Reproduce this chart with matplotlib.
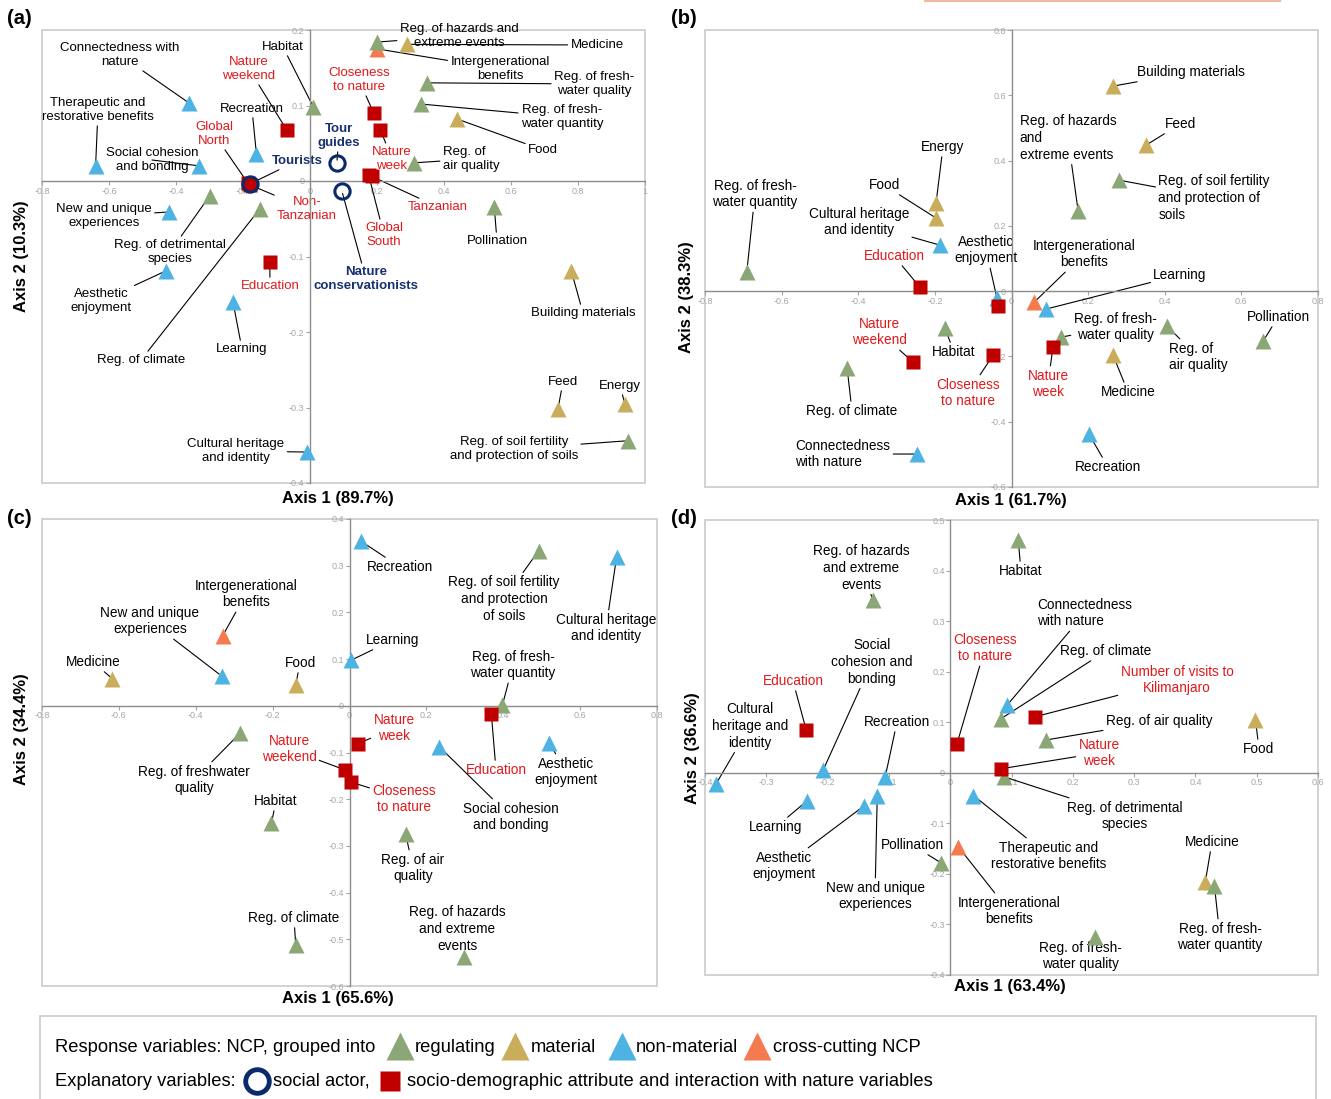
import matplotlib
matplotlib.use('Agg')
import matplotlib.pyplot as plt
from matplotlib.patches import Rectangle
from matplotlib.lines import Line2D
import numpy as np

plt.rcParams['font.family'] = ['Liberation Sans', 'DejaVu Sans']

W, H = 1331, 1099

# kinds: R regulating, M material, N non-material, C cross-cutting,
#        S socio-demographic / interaction variable, A social actor
# ---------------- panel (a) ----------------
names_a = ["Connectedness with\nnature", "Therapeutic and\nrestorative benefits", "Social cohesion\nand bonding",
           "Recreation", "Habitat", "Nature\nweekend", "Global\nNorth", "Tourists", "Tour\nguides",
           "Closeness\nto nature", "Nature\nweek", "Reg. of hazards and\nextreme events", "Medicine",
           "Intergenerational\nbenefits", "Reg. of fresh-\nwater quality", "Reg. of fresh-\nwater quantity",
           "Food", "Reg. of\nair quality", "Non-\nTanzanian", "Tanzanian", "Global\nSouth", "Pollination",
           "New and unique\nexperiences", "Reg. of detrimental\nspecies", "Nature\nconservationists",
           "Education", "Aesthetic\nenjoyment", "Learning", "Reg. of climate", "Building materials",
           "Feed", "Energy", "Reg. of soil fertility\nand protection of soils", "Cultural heritage\nand identity"]
kinds_a = ["N", "N", "N", "N", "R", "S", "S", "A", "A", "S", "S", "R", "M", "C", "R", "R", "M", "R",
           "S", "S", "S", "R", "N", "R", "A", "S", "N", "N", "R", "M", "M", "M", "R", "N"]
x_a = [-0.36, -0.64, -0.33, -0.16, 0.01, -0.07, -0.185, -0.18, 0.08, 0.19, 0.21, 0.20, 0.29, 0.20, 0.35,
       0.33, 0.44, 0.31, -0.18, 0.185, 0.175, 0.55, -0.42, -0.30, 0.095, -0.12, -0.43, -0.23, -0.15, 0.78,
       0.74, 0.94, 0.95, -0.01]
y_a = [0.103, 0.020, 0.020, 0.036, 0.098, 0.068, -0.003, -0.004, 0.024, 0.090, 0.068, 0.184, 0.181, 0.175,
       0.130, 0.102, 0.082, 0.024, -0.005, 0.006, 0.008, -0.034, -0.041, -0.020, -0.013, -0.107, -0.119,
       -0.160, -0.037, -0.119, -0.302, -0.295, -0.344, -0.359]

# ---------------- panel (b) ----------------
names_b = ["Building materials", "Feed", "Reg. of soil fertility\nand protection of\nsoils",
           "Reg. of hazards\nand\nextreme events", "Energy", "Food", "Cultural heritage\nand identity",
           "Reg. of fresh-\nwater quantity", "Aesthetic\nenjoyment", "", "Education",
           "Intergenerational\nbenefits", "Learning", "Reg. of fresh-\nwater quality", "Nature\nweek",
           "Reg. of\nair quality", "Medicine", "Pollination", "Habitat", "Nature\nweekend",
           "Closeness\nto nature", "Reg. of climate", "Connectedness\nwith nature", "Recreation"]
kinds_b = ["M", "M", "R", "R", "M", "M", "N", "R", "N", "S", "S", "C", "N", "R", "S", "R", "M", "R", "R",
           "S", "S", "R", "N", "N"]
x_b = [0.265, 0.351, 0.281, 0.174, -0.197, -0.197, -0.187, -0.691, -0.038, -0.035, -0.239, 0.059, 0.090,
       0.129, 0.108, 0.406, 0.265, 0.657, -0.174, -0.257, -0.048, -0.429, -0.247, 0.202]
y_b = [0.628, 0.447, 0.340, 0.245, 0.270, 0.224, 0.141, 0.058, -0.021, -0.046, 0.012, -0.034, -0.055,
       -0.141, -0.172, -0.107, -0.196, -0.153, -0.113, -0.217, -0.196, -0.236, -0.499, -0.438]

# ---------------- panel (c) ----------------
names_c = ["Recreation", "Reg. of soil fertility\nand protection\nof soils", "Cultural heritage\nand identity",
           "Intergenerational\nbenefits", "Learning", "Medicine", "New and unique\nexperiences", "Food",
           "Reg. of fresh-\nwater quantity", "Education", "Reg. of freshwater\nquality", "Aesthetic\nenjoyment",
           "Nature\nweek", "Social cohesion\nand bonding", "Nature\nweekend", "Closeness\nto nature",
           "Habitat", "Reg. of air\nquality", "Reg. of climate", "Reg. of hazards\nand extreme\nevents"]
kinds_c = ["N", "R", "N", "C", "N", "M", "N", "M", "R", "S", "R", "N", "S", "N", "S", "S", "R", "R", "R", "R"]
x_c = [0.029, 0.492, 0.695, -0.330, 0.005, -0.617, -0.333, -0.140, 0.398, 0.369, -0.284, 0.520, 0.023,
       0.234, -0.013, 0.003, -0.203, 0.146, -0.140, 0.299]
y_c = [0.353, 0.332, 0.319, 0.150, 0.098, 0.058, 0.064, 0.045, 0.002, -0.017, -0.058, -0.079, -0.081,
       -0.088, -0.137, -0.163, -0.251, -0.274, -0.512, -0.537]

# ---------------- panel (d) ----------------
names_d = ["Habitat", "Reg. of hazards\nand extreme\nevents", "Connectedness\nwith nature", "Reg. of climate",
           "Number of visits to\nKilimanjaro", "Education", "Closeness\nto nature", "Reg. of air quality",
           "Food", "Nature\nweek", "Reg. of detrimental\nspecies", "Cultural\nheritage and\nidentity",
           "Social\ncohesion and\nbonding", "Recreation", "Learning", "Aesthetic\nenjoyment",
           "New and unique\nexperiences", "Therapeutic and\nrestorative benefits", "Intergenerational\nbenefits",
           "Pollination", "Medicine", "Reg. of fresh-\nwater quantity", "Reg. of fresh-\nwater quality"]
kinds_d = ["R", "R", "N", "R", "S", "S", "S", "R", "M", "S", "R", "N", "N", "N", "N", "N", "N", "N", "C",
           "R", "M", "R", "R"]
x_d = [0.111, -0.126, 0.093, 0.083, 0.139, -0.235, 0.011, 0.157, 0.498, 0.083, 0.088, -0.382, -0.207,
       -0.106, -0.233, -0.140, -0.119, 0.038, 0.013, -0.015, 0.416, 0.431, 0.237]
y_d = [0.460, 0.342, 0.134, 0.107, 0.111, 0.085, 0.057, 0.065, 0.105, 0.008, -0.008, -0.022, 0.006,
       -0.008, -0.055, -0.065, -0.045, -0.045, -0.146, -0.178, -0.217, -0.223, -0.324]

# label placement (figure pixels, from top-left), same order as the names
labpos_a = [(120, 55), (98, 110), (152, 160), (252, 109), (283, 47), (249, 69), (214, 134), (297, 161),
            (339, 136), (359, 80), (392, 159), (459, 36), (597, 45), (500, 69), (594, 84), (562, 117),
            (543, 150), (471, 159), (307, 209), (438, 207), (384, 235), (497, 241), (104, 216), (170, 252),
            (366, 279), (270, 286), (101, 301), (242, 349), (141, 360), (583, 313), (563, 382), (620, 386),
            (514, 449), (236, 451)]
labpos_b = [(1191, 72), (1180, 124), (1214, 198), (1068, 138), (943, 147), (884, 185), (859, 222),
            (755, 194), (986, 250), (0, 0), (894, 256), (1084, 254), (1180, 275), (1115, 327), (1048, 384),
            (1198, 357), (1128, 392), (1278, 317), (954, 352), (879, 332), (968, 393), (852, 411),
            (843, 454), (1108, 467)]
labpos_c = [(400, 567), (504, 599), (606, 628), (246, 594), (393, 640), (93, 662), (150, 621), (300, 663),
            (513, 665), (496, 770), (194, 780), (566, 772), (394, 728), (511, 817), (289, 749), (404, 799),
            (276, 801), (413, 868), (294, 918), (457, 929)]
labpos_d = [(1021, 571), (861, 568), (1085, 613), (1106, 651), (1177, 680), (793, 681), (985, 648),
            (1159, 721), (1259, 749), (1099, 753), (1125, 816), (750, 726), (872, 662), (897, 722),
            (776, 827), (784, 866), (875, 896), (1049, 856), (1009, 911), (912, 845), (1212, 842),
            (1220, 937), (1080, 956)]

left_aligned = {"Reg. of hazards\nand\nextreme events", "Reg. of soil fertility\nand protection of\nsoils",
                "Reg. of\nair quality", "Connectedness\nwith nature"}

COLORS = {'R': '#8ba776', 'M': '#c9ad5b', 'N': '#4db3e3', 'C': '#f47b50', 'S': '#c00000', 'A': '#0b2a6b'}
TEXT_COLORS = {'S': '#e0191c', 'A': '#17306f'}
DRAW_ORDER = ['C', 'N', 'M', 'R', 'S', 'A']

fig = plt.figure(figsize=(W / 100, H / 100), dpi=100)


def px_rect(l, t, r, b):
    return [l / W, 1 - b / H, (r - l) / W, (b - t) / H]


def fmt(v, pos=None):
    return '0' if abs(v) < 1e-9 else f'{v:g}'


def draw_marker(ax, kind, xs, ys, z):
    if kind == 'S':
        ax.plot(xs, ys, 's', ms=10.5, color=COLORS[kind], mec='none', zorder=z, clip_on=False)
    elif kind == 'A':
        ax.plot(xs, ys, 'o', ms=11, mfc='none', mec=COLORS[kind], mew=2.2, zorder=z, clip_on=False)
    else:
        ax.plot(xs, ys, '^', ms=12, color=COLORS[kind], mec='none', zorder=z, clip_on=False)


def draw_panel(box, xlim, ylim, xstep, ystep, names, kinds, xs, ys, labpos, fs, lsp):
    ax = fig.add_axes(px_rect(*box))
    ax.set_xlim(xlim)
    ax.set_ylim(ylim)
    ax.patch.set_alpha(0)
    for s in ['top', 'right']:
        ax.spines[s].set_visible(False)
    for s in ['left', 'bottom']:
        ax.spines[s].set_position(('data', 0))
        ax.spines[s].set_color('#8c8c8c')
        ax.spines[s].set_linewidth(1.0)
    ax.set_xticks(np.round(np.arange(xlim[0], xlim[1] + 1e-9, xstep), 2))
    ax.set_yticks(np.round(np.arange(ylim[0], ylim[1] + 1e-9, ystep), 2))
    ax.xaxis.set_major_formatter(plt.FuncFormatter(fmt))
    ax.yaxis.set_major_formatter(plt.FuncFormatter(fmt))
    ax.tick_params(labelsize=6.5, colors='#a6a6a6', length=3, width=0.8, pad=1)
    ax.add_patch(Rectangle((0, 0), 1, 1, transform=ax.transAxes, fill=False, ec='#cfcfcf', lw=1.3,
                           clip_on=False, zorder=0))

    kinds = np.array(kinds)
    xs = np.array(xs)
    ys = np.array(ys)
    for i, k in enumerate(DRAW_ORDER):
        m = kinds == k
        if m.any():
            draw_marker(ax, k, xs[m], ys[m], 3 + i * 0.1)

    for name, k, x, y, (lx, ly) in zip(names, kinds, xs, ys, labpos):
        if not name:
            continue
        ax.annotate(name, xy=(x, y), xytext=(lx, H - ly), textcoords='figure pixels',
                    ha='center', va='center', fontsize=fs, linespacing=lsp,
                    color=TEXT_COLORS.get(k, 'black'), fontweight='bold' if k == 'A' else 'normal',
                    multialignment='left' if name in left_aligned else 'center',
                    arrowprops=dict(arrowstyle='-', color='black', lw=0.8, shrinkA=0, shrinkB=2),
                    annotation_clip=False, zorder=2)
    return ax


draw_panel((42, 30, 645, 483), (-0.8, 1.0), (-0.4, 0.2), 0.2, 0.1,
           names_a, kinds_a, x_a, y_a, labpos_a, 9.5, 1.25)
draw_panel((705, 30, 1318, 487), (-0.8, 0.8), (-0.6, 0.8), 0.2, 0.2,
           names_b, kinds_b, x_b, y_b, labpos_b, 9.8, 1.25)
draw_panel((42, 519, 657, 986), (-0.8, 0.8), (-0.6, 0.4), 0.2, 0.1,
           names_c, kinds_c, x_c, y_c, labpos_c, 9.8, 1.25)
draw_panel((705, 520, 1318, 975), (-0.4, 0.6), (-0.4, 0.5), 0.1, 0.1,
           names_d, kinds_d, x_d, y_d, labpos_d, 9.8, 1.25)


def ftext(x, y, s, **kw):
    fig.text(x / W, 1 - y / H, s, **kw)


# panel letters and axis titles
for letter, (px, py) in zip(['(a)', '(b)', '(c)', '(d)'], [(19, 18), (684, 18), (19, 518), (684, 518)]):
    ftext(px, py, letter, fontsize=14.5, fontweight='bold', ha='center', va='center')

axis1 = ["Axis 1 (89.7%)", "Axis 1 (61.7%)", "Axis 1 (65.6%)", "Axis 1 (63.4%)"]
axis2 = ["Axis 2 (10.3%)", "Axis 2 (38.3%)", "Axis 2 (34.4%)", "Axis 2 (36.6%)"]
for s, (px, py) in zip(axis1, [(338, 499), (1011, 500), (338, 998), (1010, 987)]):
    ftext(px, py, s, fontsize=12, fontweight='bold', ha='center', va='center')
for s, (px, py) in zip(axis2, [(22, 256), (687, 297), (22, 729), (692, 748)]):
    ftext(px, py, s, fontsize=12, fontweight='bold', ha='center', va='center', rotation=90)

# thin line at the top of panel (b)
fig.add_artist(Line2D([925 / W, 1280 / W], [1 - 1 / H, 1 - 1 / H], color='#f0b9a0', lw=1.5,
                      transform=fig.transFigure))

# legend box
fig.add_artist(Rectangle((40 / W, -0.01), 1276 / W, (1099 - 1016) / H + 0.01, transform=fig.transFigure,
                         fill=False, ec='#cfcfcf', lw=1.3))
lfs = 13.2
ftext(55, 1048, "Response variables: NCP, grouped into", fontsize=lfs, va='center')
legend_rows = [('R', 400, 415, "regulating"), ('M', 515, 531, "material"),
               ('N', 622, 636, "non-material"), ('C', 757, 773, "cross-cutting NCP")]
for k, mx, tx, s in legend_rows:
    fig.add_artist(Line2D([mx / W], [1 - 1046 / H], marker='^', ms=20, color=COLORS[k], mec='none',
                          transform=fig.transFigure))
    ftext(tx, 1048, s, fontsize=lfs, va='center')

ftext(55, 1081, "Explanatory variables:", fontsize=lfs, va='center')
fig.add_artist(Line2D([257 / W], [1 - 1081 / H], marker='o', ms=17, mfc='none', mec=COLORS['A'], mew=3.5,
                      transform=fig.transFigure))
ftext(273, 1081, "social actor,", fontsize=lfs, va='center')
fig.add_artist(Line2D([390 / W], [1 - 1081 / H], marker='s', ms=15, color=COLORS['S'], mec='none',
                      transform=fig.transFigure))
ftext(407, 1081, "socio-demographic attribute and interaction with nature variables", fontsize=lfs, va='center')

fig.savefig('out.png', dpi=100)
